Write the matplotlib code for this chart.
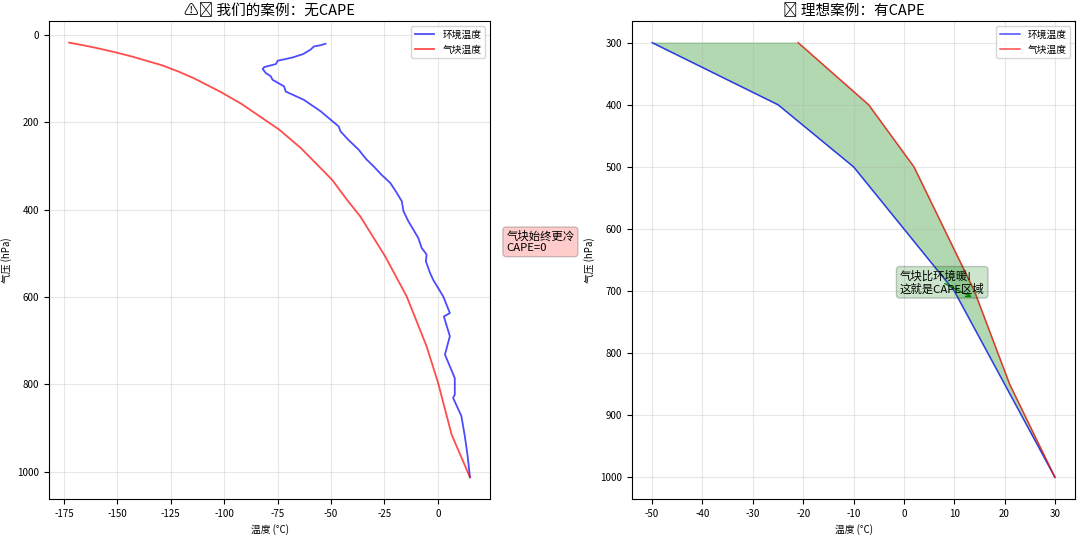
import matplotlib
matplotlib.use('Agg')
import matplotlib.pyplot as plt
import numpy as np

plt.rcParams['font.family'] = ['Noto Sans CJK SC', 'DejaVu Sans']
plt.rcParams['axes.unicode_minus'] = False

# 左图：我们的探空 (气压 hPa, 温度 °C)
env_p = [20.6, 24, 26.7, 34, 44, 52, 59.5, 67, 74, 78.5, 87.7, 95, 103, 118, 130, 149, 175,
         210, 221, 240, 263, 285, 301, 320, 339, 360, 381, 404, 427, 465, 488, 503, 519, 545,
         561, 599, 637, 645, 690, 732, 786, 824, 831, 873, 919, 960, 1013]
env_t = [-52.6, -55, -58, -59.6, -63, -68, -75, -75.8, -81.3, -82, -80.5, -78.2, -77.4, -72,
         -71.2, -62.7, -54.9, -46.4, -45.6, -42, -37.1, -33.5, -30.1, -26.5, -22.3, -19.5,
         -16.9, -16.1, -13.8, -9.2, -7.6, -5.3, -5.6, -3.7, -2.2, 2.5, 5.6, 2.8, 5.6, 3.3,
         7.9, 7.9, 7.1, 11, 12.6, 13.8, 15]
parcel_p = [18, 24, 30, 40, 50, 60, 70, 85, 100, 130, 158, 217, 260, 332, 378, 416, 507,
            599, 713, 797, 915, 1013]
parcel_t = [-172.6, -166, -160, -151, -143, -136, -129, -121, -114, -102, -92, -74.3, -64,
            -49.5, -42.5, -36.3, -24.7, -14.6, -5.3, 0.1, 6.4, 15]

# 右图：理想案例
ideal_p = np.array([1000, 850, 700, 500, 400, 300])
ideal_env = np.array([30, 20, 10, -10, -25, -50])
ideal_parcel = np.array([30, 21, 14, 2, -7, -21])

fig = plt.figure(figsize=(10.8, 5.36), dpi=100)
ax1 = fig.add_axes([0.0454, 0.069, 0.4083, 0.892])
ax2 = fig.add_axes([0.5852, 0.069, 0.4102, 0.892])

ax1.plot(env_t, env_p, 'b-', lw=1.3, alpha=0.7, label='环境温度')
ax1.plot(parcel_t, parcel_p, 'r-', lw=1.3, alpha=0.7, label='气块温度')
ax1.invert_yaxis()
ax1.set_title('⚠️ 我们的案例：无CAPE', fontsize=10.5, family='Noto Sans CJK SC', pad=4)
ax1.set_xlabel('温度 (°C)', fontsize=7)
ax1.set_ylabel('气压 (hPa)', fontsize=7)
ax1.legend(loc='upper right', fontsize=7)
ax1.grid(True, alpha=0.3)
ax1.tick_params(labelsize=7)
ax1.text(32, 474, '气块始终更冷\nCAPE=0', fontsize=8.2, va='center', clip_on=False,
         bbox=dict(boxstyle='round', facecolor='red', alpha=0.2))

ax2.plot(ideal_env, ideal_p, 'b-', lw=1.1, alpha=0.7, label='环境温度')
ax2.plot(ideal_parcel, ideal_p, 'r-', lw=1.1, alpha=0.7, label='气块温度')
ax2.fill_betweenx(ideal_p, ideal_env, ideal_parcel, where=ideal_parcel >= ideal_env,
                  color='green', alpha=0.3)
ax2.invert_yaxis()
ax2.set_title('✅ 理想案例：有CAPE', fontsize=10.5, family='Noto Sans CJK SC', pad=4)
ax2.set_xlabel('温度 (°C)', fontsize=7)
ax2.set_ylabel('气压 (hPa)', fontsize=7)
ax2.legend(loc='upper right', fontsize=7)
ax2.grid(True, alpha=0.3)
ax2.tick_params(labelsize=7)
ax2.annotate('气块比环境暖!\n这就是CAPE区域', xy=(14, 712), xytext=(-0.8, 686),
             fontsize=8.2, va='center',
             arrowprops=dict(arrowstyle='->', color='green'),
             bbox=dict(boxstyle='round', facecolor='green', alpha=0.2))

fig.savefig('out.png', dpi=100)
